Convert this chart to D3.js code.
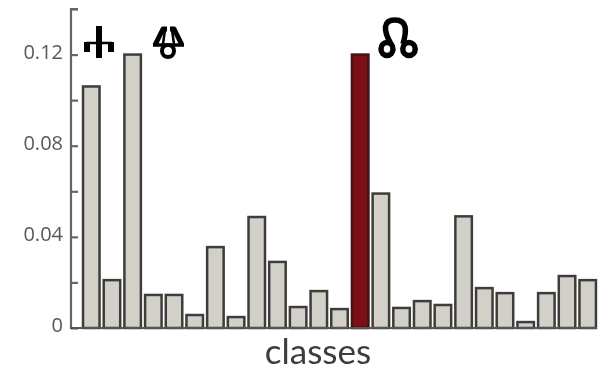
<!DOCTYPE html>
<html><head><meta charset="utf-8">
<script src="https://cdn.jsdelivr.net/npm/d3@7"></script>
<style>html,body{margin:0;padding:0;background:#fff}svg{display:block}</style>
</head><body><svg id="c" width="606" height="370"></svg>
<script>
const classes = d3.range(1, 26);
const values = [0.106,0.021,0.12,0.0145,0.0145,0.0057,0.0355,0.0048,0.0487,0.029,0.0092,0.0162,0.0083,0.12,0.059,0.0088,0.0118,0.0101,0.049,0.0175,0.0153,0.0026,0.0153,0.0228,0.021];
const highlighted = [14];
const tickValues = [0,0.02,0.04,0.06,0.08,0.1,0.12,0.14];
const tickLabels = {0:"0",0.04:"0.04",0.08:"0.08",0.12:"0.12"};
const xLabel = "classes";

const svg = d3.select("#c");
const defs = svg.append("defs");
defs.append("filter").attr("id","soft").attr("x","-2%").attr("y","-2%").attr("width","104%").attr("height","104%").append("feGaussianBlur").attr("stdDeviation",0.65);
const root = svg.append("g").attr("filter","url(#soft)");

const y = d3.scaleLinear().domain([0,0.14]).range([328,9]);
const x = d3.scaleBand().domain(classes).range([81,597.5]).paddingInner(0.13).paddingOuter(0.05);

root.selectAll("rect.bar").data(classes).join("rect").attr("class","bar")
  .attr("x",d=>x(d)+1).attr("width",x.bandwidth()-1.5)
  .attr("y",(d,i)=>y(values[i])).attr("height",(d,i)=>y(0)-y(values[i]))
  .attr("fill",d=>highlighted.includes(d)?"#7d1015":"#d2d0c8")
  .attr("stroke",d=>highlighted.includes(d)?"#3f1416":"#3e3e3a")
  .attr("stroke-width",2.5);

const axis = d3.axisRight(y).tickValues(tickValues).tickSize(7).tickFormat("");
const ag = root.append("g").attr("transform","translate(71,0)").call(axis);
ag.selectAll("path,line").attr("stroke","#666").attr("stroke-width",2.2);
ag.select("path").attr("d",`M7,${y(0.14)}H0V${y(0)}`);

root.append("line").attr("x1",70).attr("x2",597).attr("y1",y(0)).attr("y2",y(0)).attr("stroke","#555").attr("stroke-width",2.2);

root.selectAll("text.tl").data(tickValues.filter(t=>tickLabels[t]!==undefined)).join("text").attr("class","tl")
  .attr("x",63).attr("y",d=>y(d)+4).attr("text-anchor","end")
  .attr("font-family","Open Sans").attr("font-size",20).attr("fill","#585858")
  .text(d=>tickLabels[d]);

root.append("text").attr("x",318).attr("y",364).attr("text-anchor","middle")
  .attr("font-family","Lato").attr("font-size",35).attr("fill","#3c3c3c").text(xLabel);

const gl = root.append("g").attr("fill","none").attr("stroke","#000").attr("stroke-linecap","butt").attr("stroke-linejoin","round");
gl.append("path").attr("stroke-width",6).attr("d","M99,26V58");
gl.append("path").attr("stroke-width",2.5).attr("d","M86,43H112");
gl.append("path").attr("stroke-width",6).attr("d","M87,42V52M111,42V52");
gl.append("path").attr("stroke-width",5).attr("d","M155,45L163,29H167M182,45L174,29H170");
gl.append("path").attr("stroke-width",3.5).attr("d","M153,45H184");
gl.append("path").attr("stroke-width",2.5).attr("d","M165,30L163,44M172,30L174,44");
gl.append("circle").attr("cx",168).attr("cy",51).attr("r",6).attr("stroke-width",4);
gl.append("path").attr("stroke-width",5.5).attr("d","M391,44C383,30 383,20 395,20C407,20 407,30 403,44");
gl.append("ellipse").attr("cx",387).attr("cy",49).attr("rx",6).attr("ry",6.5).attr("stroke-width",5.5);
gl.append("ellipse").attr("cx",409).attr("cy",49).attr("rx",6.2).attr("ry",6.5).attr("stroke-width",5.5);
</script></body></html>
